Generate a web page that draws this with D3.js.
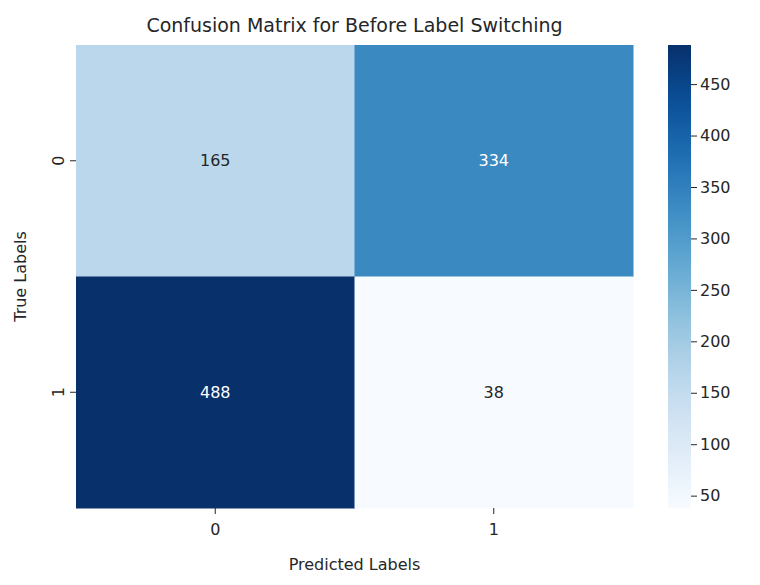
<!DOCTYPE html>
<html><head><meta charset="utf-8">
<script src="https://cdn.jsdelivr.net/npm/d3@7"></script>
<style>body{margin:0;background:#fff}</style></head>
<body><svg id="c" width="760" height="585"></svg>
<script>
const rowLabels=["0","1"];
const colLabels=["0","1"];
const values=[[165,334],[488,38]];
const cbTicks=[50,100,150,200,250,300,350,400,450];
const svg=d3.select("#c"),F="DejaVu Sans, sans-serif";
const L=76,R=633,T=45,B=508;
const x=d3.scaleBand().domain(colLabels).range([L,R]);
const y=d3.scaleBand().domain(rowLabels).range([T,B]);
const vmin=d3.min(values.flat()),vmax=d3.max(values.flat());
const col=d3.scaleSequential(d3.interpolateBlues).domain([vmin,vmax]);
values.forEach((row,i)=>row.forEach((v,j)=>{
 svg.append("rect").attr("x",x(colLabels[j])).attr("y",y(rowLabels[i])).attr("width",x.bandwidth()+0.5).attr("height",y.bandwidth()+0.5).attr("fill",col(v));
 svg.append("text").attr("x",x(colLabels[j])+x.bandwidth()/2).attr("y",y(rowLabels[i])+y.bandwidth()/2).attr("dy","0.35em").attr("text-anchor","middle").attr("font-family",F).attr("font-size",16).attr("fill",(v-vmin)/(vmax-vmin)>0.5?"#fff":"#262626").text(v);
}));
const xa=svg.append("g").attr("transform",`translate(0,${B})`).call(d3.axisBottom(x).tickSize(6));
const ya=svg.append("g").attr("transform",`translate(${L},0)`).call(d3.axisLeft(y).tickSize(6));
[xa,ya].forEach(a=>{a.select(".domain").remove();a.selectAll("text").attr("font-family",F).attr("font-size",16).attr("fill","#262626");a.selectAll("line").attr("stroke","#262626");});
ya.selectAll("text").attr("transform",function(){const t=d3.select(this);return null}).each(function(){const t=d3.select(this);const yy=+d3.select(this.parentNode).attr("transform").match(/,([\d.]+)/)[1];t.attr("x",null).attr("dy",null).attr("text-anchor","middle").attr("transform",`translate(-18,0) rotate(-90)`).attr("dy","0.35em");});
xa.selectAll("text").attr("dy","1.1em");
svg.append("text").attr("x",(L+R)/2).attr("y",570).attr("text-anchor","middle").attr("font-family",F).attr("font-size",16).attr("fill","#262626").text("Predicted Labels");
svg.append("text").attr("transform",`translate(26,${(T+B)/2}) rotate(-90)`).attr("text-anchor","middle").attr("font-family",F).attr("font-size",16).attr("fill","#262626").text("True Labels");
svg.append("text").attr("x",(L+R)/2).attr("y",32).attr("text-anchor","middle").attr("font-family",F).attr("font-size",19).attr("fill","#262626").text("Confusion Matrix for Before Label Switching");
// colorbar
const cx=668,cw=23;
const cy=d3.scaleLinear().domain([vmin,vmax]).range([B,T]);
const defs=svg.append("defs");const g=defs.append("linearGradient").attr("id","g").attr("x1",0).attr("x2",0).attr("y1",1).attr("y2",0);
d3.range(0,1.01,0.05).forEach(t=>g.append("stop").attr("offset",t).attr("stop-color",col(vmin+t*(vmax-vmin))));
svg.append("rect").attr("x",cx).attr("y",T).attr("width",cw).attr("height",B-T).attr("fill","url(#g)");
const ca=svg.append("g").attr("transform",`translate(${cx+cw},0)`).call(d3.axisRight(cy).tickValues(cbTicks).tickSize(6));
ca.select(".domain").remove();ca.selectAll("text").attr("font-family",F).attr("font-size",16).attr("fill","#262626");ca.selectAll("line").attr("stroke","#262626");
</script></body></html>
